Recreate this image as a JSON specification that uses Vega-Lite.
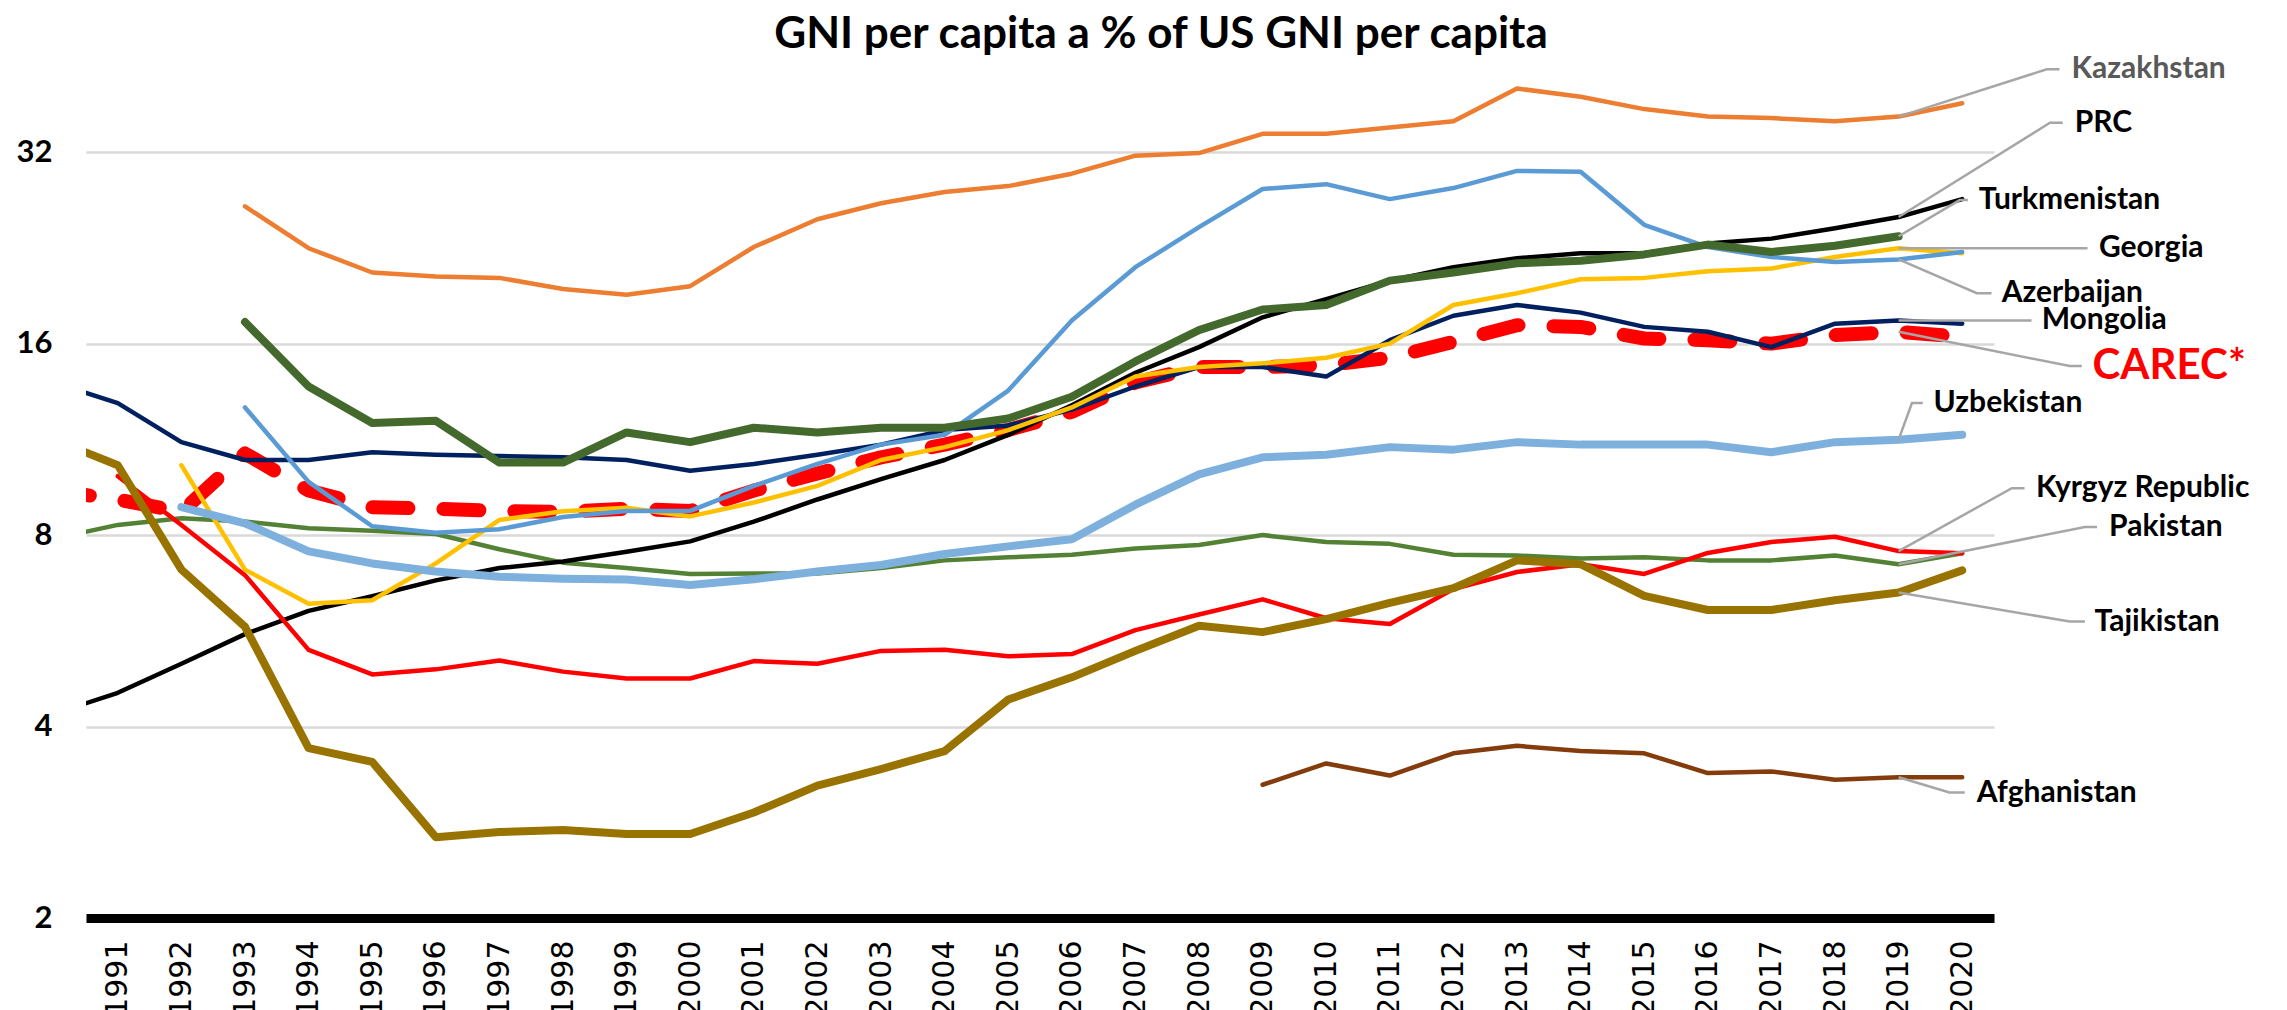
{
  "$schema": "https://vega.github.io/schema/vega-lite/v6.json",
  "width": 1908,
  "height": 860,
  "autosize": {"type": "none"},
  "padding": {"left": 86, "top": 58, "right": 293, "bottom": 92},
  "background": "white",
  "title": {
    "text": "GNI per capita a % of US GNI per capita",
    "font": "Lato", "fontSize": 44, "fontWeight": "bold", "color": "black",
    "anchor": "middle", "frame": "group", "offset": 4, "dx": 121, "dy": 7
  },
  "config": {"view": {"stroke": null}},
  "datasets": {
    "series": [
      {"year": 1990, "PRC": 4.19, "MON": 13.9, "CAREC": 9.4, "PAK": 7.9, "TAJ": 11.3},
      {"year": 1991, "PRC": 4.52, "MON": 12.9, "CAREC": 9.1, "KGZ": 9.9, "PAK": 8.3, "TAJ": 10.3},
      {"year": 1992, "PRC": 5.02, "GEO": 10.3, "MON": 11.2, "CAREC": 8.7, "UZB": 8.85, "KGZ": 8.3, "PAK": 8.5, "TAJ": 7.06},
      {"year": 1993, "KAZ": 26.3, "PRC": 5.59, "TKM": 17.3, "GEO": 7.06, "AZE": 12.7, "MON": 10.5, "CAREC": 10.75, "UZB": 8.35, "KGZ": 6.92, "PAK": 8.4, "TAJ": 5.74},
      {"year": 1994, "KAZ": 22.6, "PRC": 6.08, "TKM": 13.7, "GEO": 6.24, "AZE": 9.7, "MON": 10.5, "CAREC": 9.4, "UZB": 7.54, "KGZ": 5.28, "PAK": 8.2, "TAJ": 3.7},
      {"year": 1995, "KAZ": 20.7, "PRC": 6.41, "TKM": 12.0, "GEO": 6.32, "AZE": 8.26, "MON": 10.8, "CAREC": 8.85, "UZB": 7.22, "KGZ": 4.83, "PAK": 8.13, "TAJ": 3.52},
      {"year": 1996, "KAZ": 20.4, "PRC": 6.79, "TKM": 12.1, "GEO": 7.22, "AZE": 8.07, "MON": 10.7, "CAREC": 8.8, "UZB": 7.01, "KGZ": 4.92, "PAK": 8.03, "TAJ": 2.68},
      {"year": 1997, "KAZ": 20.3, "PRC": 7.1, "TKM": 10.4, "GEO": 8.45, "AZE": 8.17, "MON": 10.65, "CAREC": 8.73, "UZB": 6.88, "KGZ": 5.08, "PAK": 7.6, "TAJ": 2.73},
      {"year": 1998, "KAZ": 19.5, "PRC": 7.27, "TKM": 10.4, "GEO": 8.72, "AZE": 8.54, "MON": 10.6, "CAREC": 8.7, "UZB": 6.83, "KGZ": 4.88, "PAK": 7.24, "TAJ": 2.75},
      {"year": 1999, "KAZ": 19.1, "PRC": 7.53, "TKM": 11.6, "GEO": 8.83, "AZE": 8.73, "MON": 10.5, "CAREC": 8.8, "UZB": 6.81, "KGZ": 4.76, "PAK": 7.1, "TAJ": 2.71},
      {"year": 2000, "KAZ": 19.7, "PRC": 7.82, "TKM": 11.2, "GEO": 8.56, "AZE": 8.73, "MON": 10.1, "CAREC": 8.73, "UZB": 6.68, "KGZ": 4.76, "PAK": 6.95, "TAJ": 2.71},
      {"year": 2001, "KAZ": 22.7, "PRC": 8.4, "TKM": 11.8, "GEO": 9.0, "AZE": 9.56, "MON": 10.35, "CAREC": 9.4, "UZB": 6.82, "KGZ": 5.07, "PAK": 6.96, "TAJ": 2.93},
      {"year": 2002, "KAZ": 25.1, "PRC": 9.1, "TKM": 11.6, "GEO": 9.56, "AZE": 10.35, "MON": 10.7, "CAREC": 10.0, "UZB": 7.01, "KGZ": 5.02, "PAK": 6.96, "TAJ": 3.23},
      {"year": 2003, "KAZ": 26.6, "PRC": 9.8, "TKM": 11.8, "GEO": 10.5, "AZE": 11.1, "MON": 11.1, "CAREC": 10.6, "UZB": 7.18, "KGZ": 5.26, "PAK": 7.1, "TAJ": 3.43},
      {"year": 2004, "KAZ": 27.7, "PRC": 10.5, "TKM": 11.8, "GEO": 11.0, "AZE": 11.5, "MON": 11.7, "CAREC": 11.1, "UZB": 7.47, "KGZ": 5.28, "PAK": 7.3, "TAJ": 3.66},
      {"year": 2005, "KAZ": 28.3, "PRC": 11.5, "TKM": 12.2, "GEO": 11.7, "AZE": 13.5, "MON": 11.9, "CAREC": 11.7, "UZB": 7.68, "KGZ": 5.16, "PAK": 7.38, "TAJ": 4.41},
      {"year": 2006, "KAZ": 29.6, "PRC": 12.8, "TKM": 13.2, "GEO": 12.7, "AZE": 17.4, "MON": 12.6, "CAREC": 12.5, "UZB": 7.88, "KGZ": 5.2, "PAK": 7.45, "TAJ": 4.78},
      {"year": 2007, "KAZ": 31.6, "PRC": 14.4, "TKM": 15.0, "GEO": 14.2, "AZE": 21.1, "MON": 13.7, "CAREC": 13.9, "UZB": 8.93, "KGZ": 5.67, "PAK": 7.62, "TAJ": 5.26},
      {"year": 2008, "KAZ": 31.9, "PRC": 15.8, "TKM": 16.8, "GEO": 14.7, "AZE": 24.4, "MON": 14.7, "CAREC": 14.7, "UZB": 9.97, "KGZ": 6.0, "PAK": 7.72, "TAJ": 5.76},
      {"year": 2009, "KAZ": 34.2, "PRC": 17.6, "TKM": 18.1, "GEO": 14.9, "AZE": 28.0, "MON": 14.7, "CAREC": 14.7, "UZB": 10.6, "KGZ": 6.34, "PAK": 8.0, "TAJ": 5.63, "AFG": 3.24},
      {"year": 2010, "KAZ": 34.2, "PRC": 18.8, "TKM": 18.4, "GEO": 15.2, "AZE": 28.5, "MON": 14.2, "CAREC": 14.8, "UZB": 10.7, "KGZ": 5.92, "PAK": 7.8, "TAJ": 5.9, "AFG": 3.5},
      {"year": 2011, "KAZ": 35.0, "PRC": 20.1, "TKM": 20.1, "GEO": 16.0, "AZE": 27.0, "MON": 16.2, "CAREC": 15.2, "UZB": 11.0, "KGZ": 5.8, "PAK": 7.75, "TAJ": 6.26, "AFG": 3.35},
      {"year": 2012, "KAZ": 35.8, "PRC": 21.1, "TKM": 20.7, "GEO": 18.4, "AZE": 28.1, "MON": 17.7, "CAREC": 16.1, "UZB": 10.9, "KGZ": 6.58, "PAK": 7.45, "TAJ": 6.6, "AFG": 3.63},
      {"year": 2013, "KAZ": 40.3, "PRC": 21.8, "TKM": 21.4, "GEO": 19.2, "AZE": 29.9, "MON": 18.4, "CAREC": 17.1, "UZB": 11.2, "KGZ": 7.0, "PAK": 7.43, "TAJ": 7.3, "AFG": 3.73},
      {"year": 2014, "KAZ": 39.1, "PRC": 22.2, "TKM": 21.6, "GEO": 20.2, "AZE": 29.8, "MON": 17.9, "CAREC": 17.0, "UZB": 11.1, "KGZ": 7.2, "PAK": 7.35, "TAJ": 7.2, "AFG": 3.66},
      {"year": 2015, "KAZ": 37.4, "PRC": 22.2, "TKM": 22.1, "GEO": 20.3, "AZE": 24.6, "MON": 17.0, "CAREC": 16.3, "UZB": 11.1, "KGZ": 6.95, "PAK": 7.38, "TAJ": 6.42, "AFG": 3.63},
      {"year": 2016, "KAZ": 36.4, "PRC": 23.0, "TKM": 22.9, "GEO": 20.8, "AZE": 22.7, "MON": 16.7, "CAREC": 16.2, "UZB": 11.1, "KGZ": 7.5, "PAK": 7.3, "TAJ": 6.1, "AFG": 3.38},
      {"year": 2017, "KAZ": 36.2, "PRC": 23.4, "TKM": 22.3, "GEO": 21.0, "AZE": 21.9, "MON": 15.8, "CAREC": 16.0, "UZB": 10.8, "KGZ": 7.8, "PAK": 7.3, "TAJ": 6.1, "AFG": 3.4},
      {"year": 2018, "KAZ": 35.8, "PRC": 24.3, "TKM": 22.8, "GEO": 21.9, "AZE": 21.5, "MON": 17.2, "CAREC": 16.5, "UZB": 11.2, "KGZ": 7.95, "PAK": 7.43, "TAJ": 6.32, "AFG": 3.3},
      {"year": 2019, "KAZ": 36.4, "PRC": 25.3, "TKM": 23.6, "GEO": 22.6, "AZE": 21.7, "MON": 17.4, "CAREC": 16.7, "UZB": 11.3, "KGZ": 7.55, "PAK": 7.2, "TAJ": 6.5, "AFG": 3.33},
      {"year": 2020, "KAZ": 38.2, "PRC": 27.0, "GEO": 22.2, "AZE": 22.3, "MON": 17.2, "CAREC": 16.4, "UZB": 11.5, "KGZ": 7.49, "PAK": 7.49, "TAJ": 7.04, "AFG": 3.33}
    ],
    "leaders": [
      {"name": "Kazakhstan", "ord": 1, "year": 2019, "value": 36.4},
      {"name": "Kazakhstan", "ord": 2, "year": 2021.33, "value": 43.2},
      {"name": "Kazakhstan", "ord": 3, "year": 2021.53, "value": 43.2},
      {"name": "PRC", "ord": 1, "year": 2019, "value": 25.3},
      {"name": "PRC", "ord": 2, "year": 2021.38, "value": 35.6},
      {"name": "PRC", "ord": 3, "year": 2021.58, "value": 35.6},
      {"name": "Turkmenistan", "ord": 1, "year": 2019, "value": 23.6},
      {"name": "Turkmenistan", "ord": 2, "year": 2019.96, "value": 26.9},
      {"name": "Turkmenistan", "ord": 3, "year": 2020.09, "value": 26.9},
      {"name": "Georgia", "ord": 1, "year": 2019, "value": 22.6},
      {"name": "Georgia", "ord": 2, "year": 2021.97, "value": 22.6},
      {"name": "Azerbaijan", "ord": 1, "year": 2019, "value": 21.7},
      {"name": "Azerbaijan", "ord": 2, "year": 2020.23, "value": 19.2},
      {"name": "Azerbaijan", "ord": 3, "year": 2020.46, "value": 19.2},
      {"name": "Mongolia", "ord": 1, "year": 2019, "value": 17.4},
      {"name": "Mongolia", "ord": 2, "year": 2021.09, "value": 17.4},
      {"name": "CAREC*", "ord": 1, "year": 2019, "value": 16.7},
      {"name": "CAREC*", "ord": 2, "year": 2021.69, "value": 14.75},
      {"name": "CAREC*", "ord": 3, "year": 2021.88, "value": 14.75},
      {"name": "Uzbekistan", "ord": 1, "year": 2019, "value": 11.3},
      {"name": "Uzbekistan", "ord": 2, "year": 2019.21, "value": 12.9},
      {"name": "Uzbekistan", "ord": 3, "year": 2019.38, "value": 12.9},
      {"name": "Kyrgyz Republic", "ord": 1, "year": 2019, "value": 7.55},
      {"name": "Kyrgyz Republic", "ord": 2, "year": 2020.78, "value": 9.48},
      {"name": "Kyrgyz Republic", "ord": 3, "year": 2020.98, "value": 9.48},
      {"name": "Pakistan", "ord": 1, "year": 2019, "value": 7.2},
      {"name": "Pakistan", "ord": 2, "year": 2021.93, "value": 8.24},
      {"name": "Pakistan", "ord": 3, "year": 2022.12, "value": 8.24},
      {"name": "Tajikistan", "ord": 1, "year": 2019, "value": 6.5},
      {"name": "Tajikistan", "ord": 2, "year": 2021.69, "value": 5.85},
      {"name": "Tajikistan", "ord": 3, "year": 2021.93, "value": 5.85},
      {"name": "Afghanistan", "ord": 1, "year": 2019, "value": 3.33},
      {"name": "Afghanistan", "ord": 2, "year": 2019.8, "value": 3.15},
      {"name": "Afghanistan", "ord": 3, "year": 2020.04, "value": 3.15}
    ],
    "labels": [
      {"name": "Kazakhstan", "year": 2021.72, "value": 43.2},
      {"name": "PRC", "year": 2021.77, "value": 35.6},
      {"name": "Turkmenistan", "year": 2020.26, "value": 26.9},
      {"name": "Georgia", "year": 2022.15, "value": 22.6},
      {"name": "Azerbaijan", "year": 2020.62, "value": 19.2},
      {"name": "Mongolia", "year": 2021.25, "value": 17.4},
      {"name": "CAREC*", "year": 2022.05, "value": 14.75},
      {"name": "Uzbekistan", "year": 2019.55, "value": 12.9},
      {"name": "Kyrgyz Republic", "year": 2021.16, "value": 9.48},
      {"name": "Pakistan", "year": 2022.31, "value": 8.24},
      {"name": "Tajikistan", "year": 2022.08, "value": 5.85},
      {"name": "Afghanistan", "year": 2020.23, "value": 3.15}
    ]
  },
  "encoding": {
    "x": {
      "field": "year", "type": "quantitative",
      "scale": {"domain": [1990.5, 2020.5], "nice": false, "zero": false},
      "axis": {
        "values": [1991, 1992, 1993, 1994, 1995, 1996, 1997, 1998, 1999, 2000, 2001, 2002, 2003, 2004, 2005, 2006, 2007, 2008, 2009, 2010, 2011, 2012, 2013, 2014, 2015, 2016, 2017, 2018, 2019, 2020],
        "format": "d", "labelAngle": -90, "labelFont": "DejaVu Sans", "labelFontSize": 30,
        "labelColor": "black", "ticks": false, "grid": false, "domainColor": "black",
        "domainWidth": 9, "labelPadding": 22, "title": null, "labelFlush": false, "labelOverlap": false
      }
    },
    "y": {
      "field": "value", "type": "quantitative",
      "scale": {"type": "log", "base": 2, "domain": [2, 45], "nice": false},
      "axis": {
        "values": [2, 4, 8, 16, 32], "labelFont": "Lato", "labelFontWeight": "bold",
        "labelFontSize": 31, "labelColor": "black", "ticks": false, "domain": false,
        "gridColor": "#d9d9d9", "gridWidth": 2.5, "labelPadding": 34, "title": null
      }
    }
  },
  "layer": [
    {
      "data": {"name": "series"},
      "transform": [
        {"fold": ["CAREC"], "as": ["country", "value"]},
        {"filter": "isValid(datum.value)"}
      ],
      "mark": {"type": "line", "color": "#ff0000", "strokeWidth": 14, "strokeDash": [36, 35], "strokeCap": "round", "strokeJoin": "round", "clip": true},
      "encoding": {"detail": {"field": "country"}}
    },
    {
      "data": {"name": "series"},
      "transform": [
        {"fold": ["KAZ", "AFG", "PAK", "KGZ", "GEO", "AZE", "MON", "PRC"], "as": ["country", "value"]},
        {"filter": "isValid(datum.value)"}
      ],
      "mark": {"type": "line", "strokeWidth": 4.5, "strokeCap": "round", "strokeJoin": "round", "clip": true},
      "encoding": {
        "color": {
          "field": "country", "type": "nominal", "legend": null,
          "scale": {
            "domain": ["KAZ", "PRC", "TKM", "GEO", "AZE", "MON", "UZB", "KGZ", "PAK", "TAJ", "AFG"],
            "range": ["#ed7d31", "#000000", "#44692d", "#ffc000", "#5b9bd5", "#002060", "#7eb0de", "#ff0000", "#548235", "#997300", "#843c0c"]
          }
        }
      }
    },
    {
      "data": {"name": "series"},
      "transform": [
        {"fold": ["UZB", "TAJ", "TKM"], "as": ["country", "value"]},
        {"filter": "isValid(datum.value)"}
      ],
      "mark": {"type": "line", "strokeWidth": 8, "strokeCap": "round", "strokeJoin": "round", "clip": true},
      "encoding": {
        "color": {
          "field": "country", "type": "nominal", "legend": null,
          "scale": {
            "domain": ["KAZ", "PRC", "TKM", "GEO", "AZE", "MON", "UZB", "KGZ", "PAK", "TAJ", "AFG"],
            "range": ["#ed7d31", "#000000", "#44692d", "#ffc000", "#5b9bd5", "#002060", "#7eb0de", "#ff0000", "#548235", "#997300", "#843c0c"]
          }
        }
      }
    },
    {
      "data": {"name": "leaders"},
      "mark": {"type": "line", "color": "#a6a6a6", "strokeWidth": 2.5, "clip": false},
      "encoding": {
        "detail": {"field": "name"},
        "order": {"field": "ord", "type": "quantitative"}
      }
    },
    {
      "data": {"name": "labels"},
      "mark": {"type": "text", "align": "left", "baseline": "middle", "font": "Lato", "fontWeight": "bold", "clip": false},
      "encoding": {
        "text": {"field": "name"},
        "color": {
          "condition": [
            {"test": "datum.name === 'CAREC*'", "value": "#ff0000"},
            {"test": "datum.name === 'Kazakhstan'", "value": "#595959"}
          ],
          "value": "#000000"
        },
        "size": {
          "condition": {"test": "datum.name === 'CAREC*'", "value": 42},
          "value": 30
        }
      }
    }
  ]
}
